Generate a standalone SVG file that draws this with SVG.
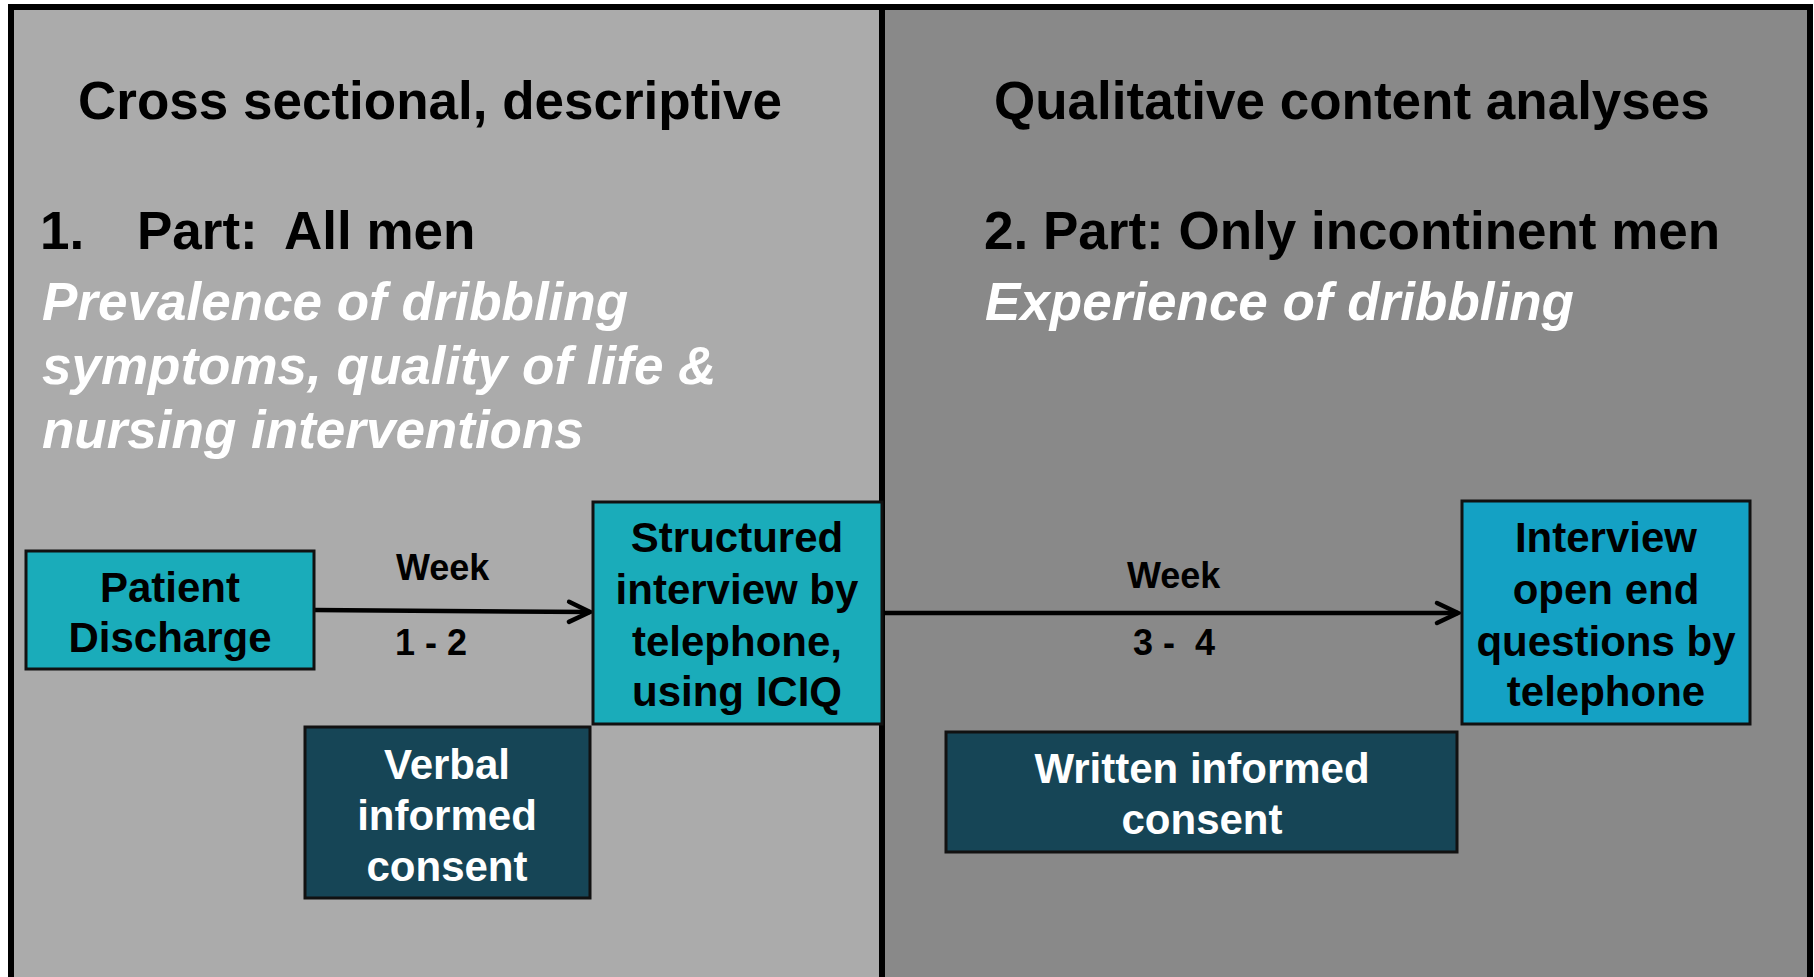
<svg xmlns="http://www.w3.org/2000/svg" width="1814" height="977" viewBox="0 0 1814 977">
<defs>
<style>
text{font-family:"Liberation Sans",Arial,sans-serif;font-weight:bold}
.h{font-size:53px;fill:#000}
.it{font-size:53px;fill:#fff;font-style:italic}
.b{font-size:42px;text-anchor:middle}
.dk{fill:#000}
.wt{fill:#fff}
.lbl{font-size:36px;fill:#000}
.teal{fill:#1AACBA;stroke:#111;stroke-width:3}
.blue{fill:#14A1C4;stroke:#111;stroke-width:3}
.navy{fill:#164556;stroke:#111;stroke-width:3}
.conn{stroke:#000;stroke-width:4.5;fill:none}
</style>
<marker id="arr" viewBox="0 0 12 14" refX="11" refY="7" markerWidth="12" markerHeight="14" markerUnits="userSpaceOnUse" orient="auto" overflow="visible">
<path d="M-10,-3 L11,7 L-10,17" fill="none" stroke="#000" stroke-width="4.5" stroke-linecap="round" stroke-linejoin="miter"/>
</marker>
</defs>
<g id="panels">
<rect x="11" y="7" width="871" height="990" fill="#ABABAB"/>
<rect x="882" y="7" width="928" height="990" fill="#898989"/>
<rect x="11" y="7" width="1799" height="990" fill="none" stroke="#000" stroke-width="6"/>
<line x1="882" y1="7" x2="882" y2="990" stroke="#000" stroke-width="6"/>
</g>
<g id="headings">
<text class="h" x="78" y="119">Cross sectional, descriptive</text>
<text class="h" x="994" y="119">Qualitative content analyses</text>
<text class="h" y="249"><tspan x="40">1. </tspan><tspan x="137">Part: </tspan><tspan x="284">All men</tspan></text>
<text class="h" x="984" y="249">2. Part: Only incontinent men</text>
<text class="it" x="42" y="320">Prevalence of dribbling</text>
<text class="it" x="42" y="384">symptoms, quality of life &amp;</text>
<text class="it" x="42" y="448">nursing interventions</text>
<text class="it" x="985" y="320">Experience of dribbling</text>
</g>
<g id="connectors">
<line class="conn" x1="314" y1="610" x2="590" y2="612" marker-end="url(#arr)"/>
<line class="conn" x1="884" y1="613" x2="1458" y2="613" marker-end="url(#arr)"/>
<text class="lbl" x="396" y="580">Week</text>
<text class="lbl" x="395" y="655">1 - 2</text>
<text class="lbl" x="1127" y="588">Week</text>
<text class="lbl" x="1133" y="655" xml:space="preserve" style="white-space:pre">3 -  4</text>
</g>
<g id="node-patient-discharge">
<rect class="teal" x="26" y="551" width="288" height="118"/>
<text class="b dk" x="170" y="602">Patient</text>
<text class="b dk" x="170" y="652">Discharge</text>
</g>
<g id="node-structured-interview">
<rect class="teal" x="593" y="502" width="289" height="222"/>
<text class="b dk" x="737" y="552">Structured</text>
<text class="b dk" x="737" y="604">interview by</text>
<text class="b dk" x="737" y="656">telephone,</text>
<text class="b dk" x="737" y="706">using ICIQ</text>
</g>
<g id="node-verbal-consent">
<rect class="navy" x="305" y="727" width="285" height="171"/>
<text class="b wt" x="447" y="779">Verbal</text>
<text class="b wt" x="447" y="830">informed</text>
<text class="b wt" x="447" y="881">consent</text>
</g>
<g id="node-open-interview">
<rect class="blue" x="1462" y="501" width="288" height="223"/>
<text class="b dk" x="1606" y="552">Interview</text>
<text class="b dk" x="1606" y="604">open end</text>
<text class="b dk" x="1606" y="656">questions by</text>
<text class="b dk" x="1606" y="706">telephone</text>
</g>
<g id="node-written-consent">
<rect class="navy" x="946" y="732" width="511" height="120"/>
<text class="b wt" x="1202" y="783">Written informed</text>
<text class="b wt" x="1202" y="834">consent</text>
</g>
</svg>
